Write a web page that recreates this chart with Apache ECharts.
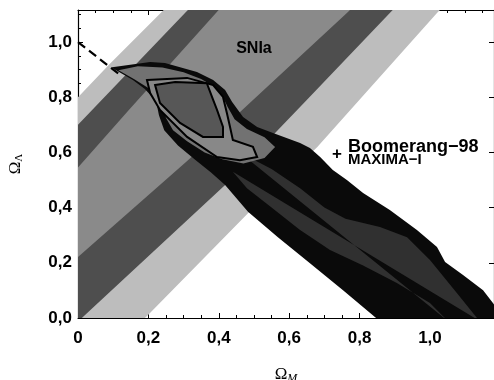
<!DOCTYPE html>
<html>
<head>
<meta charset="utf-8">
<script src="https://cdn.jsdelivr.net/npm/echarts@6/dist/echarts.min.js"></script>
<style>html,body{margin:0;padding:0;background:#fff}#c{width:494px;height:380px}</style>
</head>
<body>
<div id="c"></div>
<script>
// ---- axis ----
const xTicks = [0, 0.2, 0.4, 0.6, 0.8, 1.0];
const yTicks = [0, 0.2, 0.4, 0.6, 0.8, 1.0];
const xMax = 1.182, yMax = 1.116;

// ---- SNIa band boundaries [Omega_M, Omega_L] ----
const snUpper3 = [[-0.66,-0.05],[0,0.80],[0.09,0.92],[0.27,1.15]];            // white / light
const snUpper2 = [[-0.56,-0.05],[0,0.70],[0.304,1.105],[0.338,1.15]];          // light / dark
const snUpper1 = [[-0.42,-0.05],[0,0.545],[0.142,0.75],[0.392,1.105],[0.423,1.15]]; // dark / medium
const snLower1 = [[-0.235,-0.05],[0,0.221],[0.3125,0.572],[0.764,1.105],[0.80,1.15]]; // medium / dark
const snLower2 = [[-0.03,-0.05],[0.02,0.011],[0.418,0.482],[0.65,0.79],[0.886,1.105],[0.92,1.15]]; // dark / light
const snLower3 = [[0.15,-0.05],[0.199,0.011],[0.483,0.38],[0.68,0.62],[1.02,1.105],[1.055,1.15]]; // light / white

// ---- Boomerang-98 + MAXIMA-I band ----
const cmbUpper = [[0.097,0.909],[0.205,0.928],[0.247,0.924],[0.29,0.909],[0.338,0.891],[0.384,0.862],[0.418,0.826],[0.438,0.783],[0.469,0.728],[0.509,0.692],[0.554,0.67],[0.631,0.634],[0.659,0.616],[0.688,0.583],[0.724,0.536],[0.764,0.5],[0.81,0.453],[0.886,0.391],[0.963,0.319],[1.02,0.257],[1.043,0.203],[1.094,0.156],[1.151,0.101],[1.179,0.054],[1.21,0.0],[1.21,-0.05]];
const cmbLower = [[0.097,0.906],[0.156,0.862],[0.19,0.83],[0.222,0.785],[0.23,0.735],[0.245,0.68],[0.284,0.625],[0.332,0.574],[0.378,0.527],[0.418,0.482],[0.483,0.385],[0.568,0.293],[0.653,0.205],[0.753,0.101],[0.847,0.0],[0.86,-0.05]];
const cmbInnerUpper = [[0.46,0.6],[0.55,0.54],[0.631,0.47],[0.70,0.40],[0.76,0.36],[0.858,0.33],[0.935,0.293],[1.0,0.21],[1.077,0.09],[1.14,-0.01]];
const cmbInnerLower = [[1.05,-0.01],[1.0,0.054],[0.906,0.127],[0.81,0.19],[0.716,0.246],[0.63,0.32],[0.55,0.40],[0.48,0.47],[0.44,0.53]];

// ---- combined contours ----
const ringOuter = [[0.115,0.898],[0.17,0.912],[0.24,0.908],[0.30,0.89],[0.35,0.866],[0.385,0.84],[0.41,0.805],[0.425,0.765],[0.445,0.72],[0.48,0.685],[0.53,0.655],[0.56,0.62],[0.53,0.58],[0.47,0.56],[0.41,0.575],[0.36,0.60],[0.31,0.64],[0.27,0.68],[0.25,0.725],[0.24,0.775],[0.21,0.825],[0.16,0.865]];
const ringMiddle = [[0.196,0.862],[0.31,0.87],[0.384,0.844],[0.412,0.801],[0.423,0.743],[0.432,0.692],[0.44,0.645],[0.497,0.62],[0.509,0.583],[0.46,0.572],[0.395,0.583],[0.31,0.656],[0.233,0.754],[0.205,0.815]];
const ringInner = [[0.219,0.844],[0.276,0.855],[0.366,0.851],[0.384,0.79],[0.395,0.754],[0.412,0.692],[0.412,0.656],[0.355,0.656],[0.29,0.707],[0.233,0.779]];

// ---- flat-universe line ----
const flatLine = [[0,1.0],[0.12,0.88]];

// ---- annotations [x, y, text, style] ----
const labels = [
  [0.5, 0.975, 'SNIa', 's'],
  [0.736, 0.592, '+', 'p'],
  [0.767, 0.618, 'Boomerang\u221298', 'b'],
  [0.767, 0.572, 'MAXIMA\u2212I', 'm']
];

const chart = echarts.init(document.getElementById('c'), null, {renderer: 'canvas'});

function poly(points, fill, z, stroke, lw) {
  return {
    type: 'custom', coordinateSystem: 'cartesian2d', clip: true, silent: true, z: z,
    data: [[0, 0]],
    renderItem: function (params, api) {
      return {
        type: 'polygon',
        shape: {points: points.map(p => api.coord(p))},
        style: {fill: fill, stroke: stroke || null, lineWidth: lw || 0}
      };
    }
  };
}
function band(a, b) { return a.concat(b.slice().reverse()); }

const fmtX = v => (xTicks.some(t => Math.abs(t - v) < 1e-6) ? (v === 0 ? '0' : v.toFixed(1).replace('.', ',')) : '');
const fmtY = v => (yTicks.some(t => Math.abs(t - v) < 1e-6) ? v.toFixed(1).replace('.', ',') : '');

const labelFont = {color: '#000', fontFamily: 'Liberation Sans', fontWeight: 'bold', fontSize: 17};
const axisCommon = {
  axisLine: {show: true, onZero: false, lineStyle: {color: '#000', width: 1.2}},
  axisTick: {show: true, inside: true, length: 5, lineStyle: {color: '#000', width: 1}},
  minorTick: {show: true, splitNumber: 4, length: 3, lineStyle: {color: '#000', width: 1}},
  splitLine: {show: false}
};

const series = [
  poly(band(snUpper3, snLower3), '#bdbdbd', 1),
  poly(band(snUpper2, snLower2), '#4e4e4e', 2),
  poly(band(snUpper1, snLower1), '#8a8a8a', 3),
  {type: 'line', data: flatLine, symbol: 'none', silent: true, z: 4, clip: true,
   lineStyle: {color: '#000', width: 2.2, type: [9, 5]}},
  poly(band(cmbUpper, cmbLower), '#0a0a0a', 5),
  poly(band(cmbInnerUpper, cmbInnerLower), '#303030', 6),
  poly(ringOuter, '#727272', 7),
  poly(ringMiddle, '#888888', 8, '#000', 2),
  poly(ringInner, '#575757', 9, '#000', 2),
  {
    type: 'custom', coordinateSystem: 'cartesian2d', silent: true, z: 10,
    data: labels,
    renderItem: function (params, api) {
      const d = labels[params.dataIndex];
      const p = api.coord([d[0], d[1]]);
      const st = {
        s: {fontSize: 16, align: 'center'},
        p: {fontSize: 17, align: 'center'},
        b: {fontSize: 18, align: 'left'},
        m: {fontSize: 15, align: 'left'}
      }[d[3]];
      return {
        type: 'text', x: p[0], y: p[1],
        style: {text: d[2], fill: '#000', fontFamily: 'Liberation Sans', fontWeight: 'bold',
                fontSize: st.fontSize, align: st.align, verticalAlign: 'middle'}
      };
    }
  }
];

chart.setOption({
  backgroundColor: '#fff',
  animation: false,
  grid: {left: 78, right: 0, top: 10, bottom: 62, containLabel: false, outerBoundsMode: 'none'},
  xAxis: [
    Object.assign({}, axisCommon, {
      type: 'value', min: 0, max: xMax, interval: 0.2, position: 'bottom',
      axisLabel: Object.assign({}, labelFont, {margin: 12, formatter: fmtX, showMaxLabel: false}),
      name: '{o|\u03A9}{s|M}', nameLocation: 'middle', nameGap: 47,
      nameTextStyle: {rich: {
        o: {fontFamily: 'Liberation Serif', fontSize: 17, color: '#000'},
        s: {fontFamily: 'Liberation Serif', fontStyle: 'italic', fontSize: 12, color: '#000', padding: [8, 0, 0, 0]}
      }}
    }),
    Object.assign({}, axisCommon, {
      type: 'value', min: 0, max: xMax, interval: 0.2, position: 'top',
      axisLabel: {show: false}
    })
  ],
  yAxis: [
    Object.assign({}, axisCommon, {
      type: 'value', min: 0, max: yMax, interval: 0.2, position: 'left',
      axisLabel: Object.assign({}, labelFont, {margin: 6, formatter: fmtY, showMaxLabel: false}),
      name: '{o|\u03A9}{s|\u039B}', nameLocation: 'middle', nameGap: 53, nameRotate: 90,
      nameTextStyle: {rich: {
        o: {fontFamily: 'Liberation Serif', fontSize: 17, color: '#000'},
        s: {fontFamily: 'Liberation Serif', fontSize: 11, color: '#000', padding: [8, 0, 0, 0]}
      }}
    }),
    Object.assign({}, axisCommon, {
      type: 'value', min: 0, max: yMax, interval: 0.2, position: 'right',
      axisLabel: {show: false}, minorTick: {show: false}
    })
  ],
  series: series
});
</script>
</body>
</html>
